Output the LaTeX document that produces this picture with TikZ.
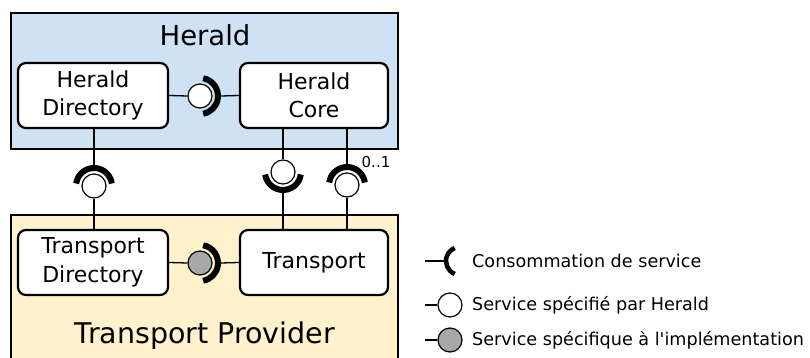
\documentclass[tikz,border=0pt]{standalone}
\usepackage{fontspec}
\setmainfont{DejaVu Sans}
\definecolor{heraldbg}{HTML}{CFE2F3}
\definecolor{transbg}{HTML}{FFF2CC}
\definecolor{implgrey}{HTML}{A8A8A8}
\begin{document}
\begin{tikzpicture}[x=1pt,y=-1pt,
  container/.style={draw=black,line width=2.6pt},
  comp/.style={draw=black,fill=white,line width=2.2pt,rounded corners=8pt,align=center,
    font=\fontsize{22}{28.5}\selectfont,inner sep=0pt},
  ball/.style={circle,draw=black,line width=1.2pt,minimum size=24pt,inner sep=0pt,fill=white},
  implball/.style={ball,fill=implgrey},
  sock/.style={line width=6pt,draw=black},
  wire/.style={line width=1.3pt,draw=black},
  legtext/.style={anchor=west,font=\fontsize{17.6}{20}\selectfont,inner sep=0pt},
]
\useasboundingbox (0,0) rectangle (810,358);
% containers
\draw[container,fill=heraldbg] (11,13) rectangle (398,149);
\draw[container,fill=transbg] (11,215) rectangle (398,372);
\node[font=\fontsize{27.5}{30}\selectfont,inner sep=0pt] (ht) at (205,35) {Herald};
\node[font=\fontsize{28.5}{30}\selectfont,inner sep=0pt] (tpt) at (205,336) {Transport Provider};
% components
\node[comp,minimum width=150pt,minimum height=65pt] (hd) at (93,95.5) {Herald\\Directory};
\node[comp,minimum width=148pt,minimum height=65pt] (hc) at (314,95.5) {Herald\\Core};
\node[comp,minimum width=150pt,minimum height=65pt] (td) at (93,262.5) {Transport\\Directory};
\node[comp,minimum width=148pt,minimum height=65pt] (tr) at (314,262.5) {Transport};
% Herald Directory -> Herald Core (horizontal)
\node[ball] (b1) at (200,96) {};
\draw[sock] (200,96) ++(-80:18) arc (-80:80:18);
\coordinate (s1) at (221,96);
\draw[wire] (hd.east) -- (b1.west);
\draw[wire] (s1) -- (hc.west);
% Transport Directory -> Transport (horizontal, implementation specific)
\node[implball] (b2) at (200,263) {};
\draw[sock] (200,263) ++(-80:18) arc (-80:80:18);
\coordinate (s2) at (221,263);
\draw[wire] (td.east) -- (b2.west);
\draw[wire] (s2) -- (tr.west);
% Herald Directory consumes, Transport Directory provides
\node[ball] (b3) at (94,186) {};
\draw[sock] (94,186) ++(188:18) arc (188:352:18);
\coordinate (s3) at (94,165);
\draw[wire] (hd.south -| s3) -- (s3);
\draw[wire] (b3.south) -- (td.north -| b3);
% Herald Core provides, Transport consumes
\node[ball] (b4) at (283,172) {};
\draw[sock] (283,172) ++(8:18) arc (8:172:18);
\coordinate (s4) at (283,193);
\draw[wire] (hc.south -| b4) -- (b4.north);
\draw[wire] (s4) -- (tr.north -| s4);
% Herald Core consumes (0..1), Transport provides
\node[ball] (b5) at (347,185) {};
\draw[sock] (347,185) ++(188:18) arc (188:352:18);
\coordinate (s5) at (347,164);
\draw[wire] (hc.south -| s5) -- (s5);
\draw[wire] (b5.south) -- (tr.north -| b5);
\node[font=\fontsize{15}{17}\selectfont,inner sep=0pt] (mult) at (376,162) {0..1};
% legend
\coordinate (l1a) at (425,261);
\coordinate (l1b) at (447,261);
\draw[wire] (l1a) -- (l1b);
\draw[line width=4.5pt] (460,261) ++(112:14) arc (112:248:14);
\node[legtext] (lt1) at (472,261) {Consommation de service};
\node[ball] (lb2) at (450,305) {};
\coordinate (l2a) at (425,305);
\draw[wire] (l2a) -- (lb2.west);
\node[legtext] (lt2) at (472,305) {Service spécifié par Herald};
\node[implball] (lb3) at (450,340) {};
\coordinate (l3a) at (425,340);
\draw[wire] (l3a) -- (lb3.west);
\node[legtext] (lt3) at (472,340) {Service spécifique à l\textquotesingle implémentation};
\end{tikzpicture}
\end{document}
